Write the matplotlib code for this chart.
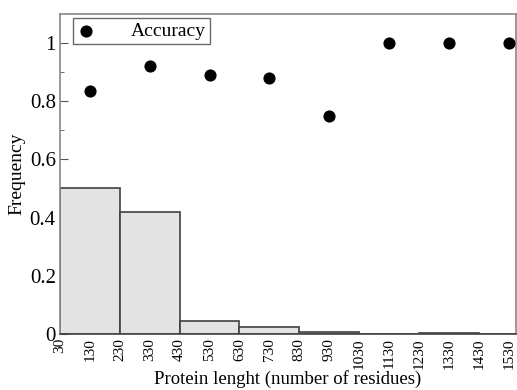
import numpy as np
import matplotlib.pyplot as plt

# histogram of protein lengths (bin edges every 200 residues)
bin_left = [30, 230, 430, 630, 830, 1030, 1230, 1430]
bin_freq = [0.50, 0.42, 0.045, 0.024, 0.005, 0.001, 0.002, 0.001]
bin_width = 200

# accuracy per bin (plotted at bin centres)
acc_x = [130, 330, 530, 730, 930, 1130, 1330, 1530]
acc_y = [0.835, 0.92, 0.89, 0.88, 0.75, 1.0, 1.0, 1.0]

xticks = list(range(30, 1531, 100))
yticks = [0, 0.2, 0.4, 0.6, 0.8, 1.0]
ytick_labels = ["0", "0.2", "0.4", "0.6", "0.8", "1"]

plt.rcParams["font.family"] = ["Liberation Serif", "DejaVu Serif"]

fig = plt.figure(figsize=(5.17, 3.9), dpi=100)
ax = fig.add_axes([0.116, 0.144, 0.882, 0.82])

ax.bar(bin_left, bin_freq, width=bin_width, align="edge",
       color="#e3e3e3", edgecolor="#404040", linewidth=1.2, zorder=2)
ax.scatter(acc_x, acc_y, s=60, color="black", zorder=3, label="Accuracy",
           clip_on=False)

ax.set_xlim(30, 1554)
ax.set_ylim(0, 1.1)
ax.set_xticks(xticks)
ax.set_xticklabels([str(t) for t in xticks], rotation=90, fontsize=11)
ax.set_yticks(yticks)
ax.set_yticklabels(ytick_labels, fontsize=15)
ax.set_yticks(np.arange(0.1, 1.1, 0.2), minor=True)
ax.tick_params(axis="y", which="major", direction="in", length=6, pad=3,
               color="#555555")
ax.tick_params(axis="y", which="minor", direction="in", length=3,
               color="#555555")
ax.tick_params(axis="x", length=0, pad=3)

for s in ax.spines.values():
    s.set_color("#888888")
    s.set_linewidth(1.2)
ax.spines["bottom"].set_color("#444444")

ax.set_xlabel("Protein lenght (number of residues)", fontsize=13.5, labelpad=1)
ax.set_ylabel("Frequency", fontsize=14, labelpad=3)

leg = ax.legend(loc="upper left", fontsize=14, frameon=True, fancybox=False,
                borderpad=0.2, handletextpad=1.8, handlelength=1.0,
                borderaxespad=0, bbox_to_anchor=(0.028, 0.987))
leg.get_frame().set_edgecolor("#444444")
leg.get_frame().set_linewidth(1.0)

fig.savefig("out.png", dpi=100)
